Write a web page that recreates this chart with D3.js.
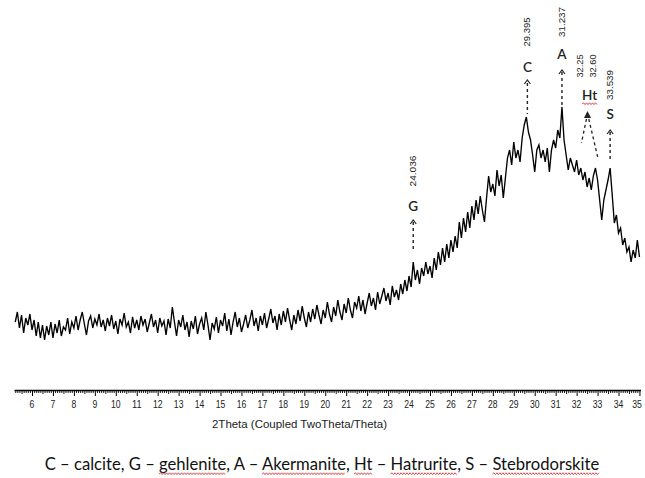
<!DOCTYPE html>
<html><head><meta charset="utf-8">
<script src="https://cdn.jsdelivr.net/npm/d3@7/dist/d3.min.js"></script>
<style>body{margin:0;background:#fff}svg{display:block}</style>
</head><body><svg id="c" width="645" height="478"></svg>
<script>
// ---------- data ----------
const startAngle = 5.2;   // first 2-theta value
const stepAngle = 0.1;    // 2-theta step
const intensity = [
  68,78,62,75,57,72,65,76,                 // 5.2-5.9
  60,70,54,68,52,65,50,64,55,68,           // 6
  52,66,57,70,54,63,60,72,56,68,           // 7
  62,74,60,70,78,66,55,69,74,62,           // 8
  71,65,76,63,70,59,72,64,75,61,           // 9
  69,56,71,65,77,63,68,57,73,62,           // 10
  70,60,74,65,71,58,67,76,63,70,           // 11
  57,72,64,69,55,71,62,83,68,54,           // 12
  70,63,75,60,68,53,69,61,74,56,           // 13
  66,72,60,78,65,50,67,61,73,57,           // 14
  70,64,77,59,71,55,68,78,63,72,           // 15
  58,66,75,62,70,80,64,72,59,74,           // 16
  65,77,62,71,81,67,74,60,76,65,           // 17
  79,68,82,70,60,75,66,80,69,84,           // 18
  72,63,78,68,81,71,85,75,66,80,           // 19
  72,88,76,68,83,74,90,78,70,86,           // 20
  77,92,80,72,88,82,94,79,90,76,           // 21
  87,97,84,92,80,98,86,94,102,89,          // 22
  97,85,104,93,100,90,106,96,110,99,       // 23
  114,103,128,110,120,106,122,114,128,116, // 24
  124,112,132,120,138,125,142,128,146,132, // 25
  150,138,154,142,168,152,172,158,178,162, // 26
  184,170,190,176,194,180,168,192,214,198, // 27
  206,194,220,204,215,192,212,232,240,225, // 28
  248,232,240,228,252,265,273,258,250,235, // 29
  218,240,245,232,240,228,242,218,240,250, // 30
  242,260,252,283,250,235,220,232,225,218, // 31
  230,215,222,210,218,203,212,200,214,222, // 32
  210,190,170,190,200,210,222,195,167,175, // 33
  157,162,145,152,138,143,128,140,132,150, // 34
  133                                      // 35.0
];
const majorTicks = d3.range(6, 36);
const annLetters = ["G", "C", "A", "S"];
const annLabels  = ["24.036", "29.395", "31.237", "33.539"];
const annAngles  = [24.2, 29.65, 31.3, 33.6];
const htLetter = "Ht";
const htLabels = ["32.25", "32.60"];
const htLabelAngles = [32.14, 32.76];
const htLineEnds = [32.23, 33.04];
const axisTitle = "2Theta (Coupled TwoTheta/Theta)";
const caption = "C \u2013 calcite, G \u2013 gehlenite, A \u2013 Akermanite, Ht \u2013 Hatrurite, S \u2013 Stebrodorskite";
const misspelled = ["gehlenite", "Akermanite", "Ht", "Hatrurite", "Stebrodorskite"];

// ---------- drawing ----------
const svg = d3.select("#c");
const narrow = "'Liberation Sans',Arial,sans-serif";
const labelFont = "Lato,'Open Sans',sans-serif";

const x = d3.scaleLinear().domain([5.15, 35.05]).range([14.2, 640.5]);
const y = d3.scaleLinear().domain([0, 290]).range([390, 100]);

const pts = intensity.map((v, i) => [startAngle + i * stepAngle, v]);
svg.append("path")
  .datum(pts)
  .attr("fill", "none")
  .attr("stroke", "#000")
  .attr("stroke-width", 1.35)
  .attr("stroke-linejoin", "miter")
  .attr("d", d3.line().x(d => x(d[0])).y(d => y(d[1])));

// axis
const minor = d3.range(52, 351).map(d => d / 10).filter(d => Math.abs(d - Math.round(d)) > 1e-6);
const gMinor = svg.append("g").attr("transform", "translate(0,390)")
  .call(d3.axisBottom(x).tickValues(minor).tickSizeInner(3).tickSizeOuter(0).tickFormat(""));
gMinor.selectAll(".tick line").attr("stroke-width", 0.9)
  .attr("y2", d => Math.abs(d * 2 - Math.round(d * 2)) < 1e-6 ? 4 : 3);
const gAxis = svg.append("g").attr("transform", "translate(0,390)")
  .call(d3.axisBottom(x).tickValues(majorTicks).tickSizeInner(6).tickSizeOuter(0).tickPadding(3.5).tickFormat(d3.format("d")));
gAxis.select(".domain").attr("stroke-width", 1.6);
gAxis.selectAll(".tick line").attr("stroke-width", 1);
gAxis.selectAll(".tick text").attr("font-family", narrow).attr("font-size", 11.5).attr("fill", "#222")
  .attr("dx", d => d === 35 ? -3 : -0.5)
  .attr("textLength", d => String(d).length * 4.8)
  .attr("lengthAdjust", "spacingAndGlyphs");

svg.append("text").attr("x", 299.5).attr("y", 428).attr("text-anchor", "middle")
  .attr("font-family", narrow).attr("font-size", 11.5).attr("fill", "#222")
  .attr("textLength", 175).attr("lengthAdjust", "spacingAndGlyphs").text(axisTitle);

// annotations
const layout = [
  {num: 171, len: 31, let: 206, head: 220, lineTop: 222, lineBot: 252},
  {num: 32,  len: 29, let: 67,  head: 80,  lineTop: 83,  lineBot: 114},
  {num: 22,  len: 30, let: 54,  head: 70,  lineTop: 72,  lineBot: 106},
  {num: 85,  len: 30, let: 114, head: 130, lineTop: 132, lineBot: 162}
];
annLetters.forEach((L, i) => {
  const ax = x(annAngles[i]), l = layout[i];
  svg.append("text").attr("transform", `translate(${ax + 3},${l.num}) rotate(-90)`)
    .attr("text-anchor", "middle").attr("font-family", narrow).attr("font-size", 9.5)
    .attr("textLength", l.len).attr("lengthAdjust", "spacingAndGlyphs")
    .attr("fill", "#222").text(annLabels[i]);
  svg.append("text").attr("x", ax).attr("y", l.let + 5).attr("text-anchor", "middle")
    .attr("font-family", labelFont).attr("font-size", 13.5).attr("font-weight", 600)
    .attr("fill", "#222").text(L);
  svg.append("path").attr("d", `M${ax - 3},${l.head + 4}L${ax},${l.head}L${ax + 3},${l.head + 4}`)
    .attr("fill", "none").attr("stroke", "#222").attr("stroke-width", 1.2);
  svg.append("line").attr("x1", ax).attr("x2", ax).attr("y1", l.lineTop).attr("y2", l.lineBot)
    .attr("stroke", "#222").attr("stroke-width", 1.4).attr("stroke-dasharray", "3,3");
});

// Ht annotation
htLabels.forEach((t, i) => {
  svg.append("text").attr("transform", `translate(${x(htLabelAngles[i]) + 3},66) rotate(-90)`)
    .attr("text-anchor", "middle").attr("font-family", narrow).attr("font-size", 9.5)
    .attr("textLength", 23).attr("lengthAdjust", "spacingAndGlyphs")
    .attr("fill", "#222").text(t);
});
const htx = x(32.62);
const htText = svg.append("text").attr("x", htx).attr("y", 100).attr("text-anchor", "middle")
  .attr("font-family", labelFont).attr("font-size", 13.5).attr("font-weight", 600)
  .attr("fill", "#222").text(htLetter);
const hx = x(32.52);
svg.append("path").attr("d", `M${hx - 3.5},${118}L${hx},${111}L${hx + 3.5},${118}Z`).attr("fill", "#222");
[[x(32.47), htLineEnds[0]], [x(32.58), htLineEnds[1]]].forEach(([sx, e]) => {
  svg.append("line").attr("x1", sx).attr("y1", 119).attr("x2", x(e)).attr("y2", e < 32.5 ? 143 : 160)
    .attr("stroke", "#222").attr("stroke-width", 1.3).attr("stroke-dasharray", "3,3");
});

function squiggle(x0, x1, yy) {
  let d = `M${x0},${yy}`, up = true;
  for (let xx = x0 + 1.5; xx <= x1; xx += 1.5) { d += `L${xx},${yy + (up ? -1.2 : 0.6)}`; up = !up; }
  svg.append("path").attr("d", d).attr("fill", "none").attr("stroke", "#d33").attr("stroke-width", 0.9);
}
{
  const b = htText.node().getBBox();
  squiggle(b.x, b.x + b.width, 104);
}

// caption: size chosen so it spans the reference width
const cap = svg.append("text").attr("x", 322).attr("y", 470).attr("text-anchor", "middle")
  .attr("font-family", labelFont).attr("font-size", 14).attr("fill", "#111").text(caption);
const capNode = cap.node();
const w0 = capNode.getComputedTextLength();
cap.attr("font-size", 14 * 555 / w0);
const cb = capNode.getBBox();
misspelled.forEach(w => {
  const idx = caption.indexOf(w);
  const pre = capNode.getSubStringLength(0, idx);
  const wl = capNode.getSubStringLength(idx, w.length);
  squiggle(cb.x + pre, cb.x + pre + wl, 474);
});
</script>
</body></html>
